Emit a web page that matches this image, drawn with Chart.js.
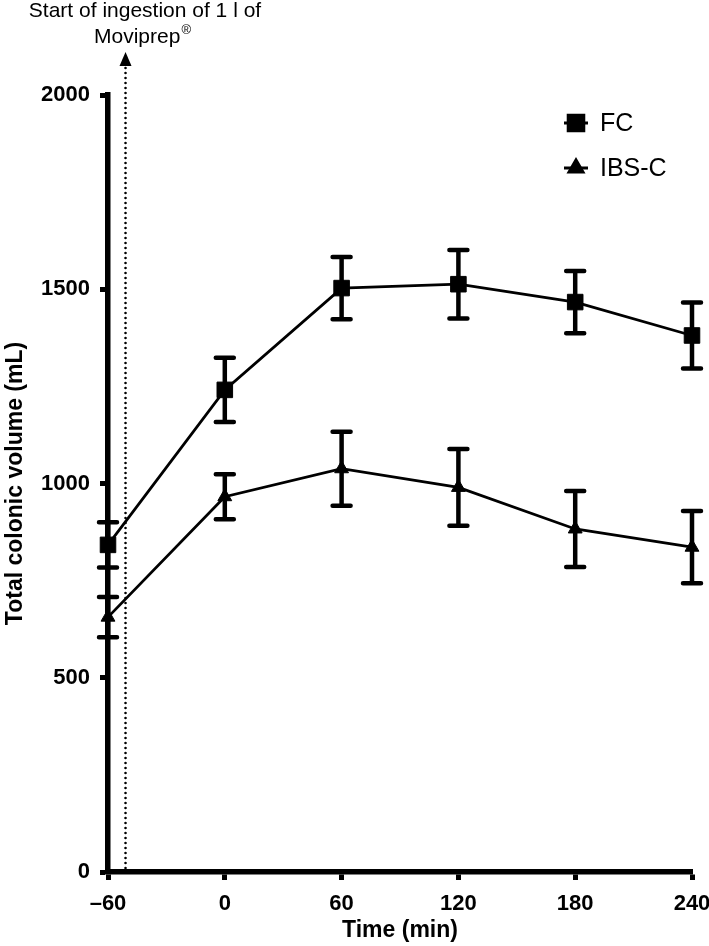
<!DOCTYPE html>
<html>
<head>
<meta charset="utf-8">
<script src="https://cdn.jsdelivr.net/npm/chart.js@4.4.1/dist/chart.umd.min.js"></script>
<style>
html, body { margin: 0; padding: 0; background: #fff; }
#wrap { width: 709px; height: 946px; }
</style>
</head>
<body>
<div id="wrap"><canvas id="chart" width="709" height="946"></canvas></div>
<script>
// DATA

const times = [-60, 0, 60, 120, 180, 240];
const fc_mean = [842, 1241, 1503, 1513, 1467, 1381];
const fc_err = [58, 83, 80, 88, 80, 85];
const ibs_mean = [656, 966, 1038, 990, 883, 836];
const ibs_err = [52, 58, 95, 99, 98, 93];
const x_ticks = [-60, 0, 60, 120, 180, 240];
const y_ticks = [0, 500, 1000, 1500, 2000];
const ingestion_time = -51;

const FONT = "'Liberation Sans', Arial, Helvetica, sans-serif";

//==================================
// PLUGINS
//==================================

// error bars drawn through the scales
const errorBars = {
	id: 'errorBars',
	afterDatasetsDraw(chart) {
		const ctx = chart.ctx;
		const xs = chart.scales.x, ys = chart.scales.y;
		chart.data.datasets.forEach(ds => {
			ctx.save();
			ctx.strokeStyle = '#000';
			ctx.lineWidth = 4.5;
			ctx.lineCap = 'butt';
			ds.data.forEach((p, i) => {
				const e = ds.errors[i];
				const x = xs.getPixelForValue(p.x);
				const top = ys.getPixelForValue(p.y + e);
				const bot = ys.getPixelForValue(p.y - e);
				ctx.beginPath();
				ctx.moveTo(x, top); ctx.lineTo(x, bot);
				ctx.stroke();
				ctx.lineCap = 'round';
				ctx.beginPath();
				ctx.moveTo(x - 9, top); ctx.lineTo(x + 9, top);
				ctx.moveTo(x - 9, bot); ctx.lineTo(x + 9, bot);
				ctx.stroke();
				ctx.lineCap = 'butt';
			});
			ctx.restore();
		});
	}
};

// dotted line + arrow + note for start of ingestion
const ingestion = {
	id: 'ingestion',
	beforeDatasetsDraw(chart) {
		const ctx = chart.ctx;
		const x = chart.scales.x.getPixelForValue(ingestion_time);
		ctx.save();
		ctx.strokeStyle = '#000';
		ctx.lineWidth = 2.6;
		ctx.lineCap = 'round';
		ctx.setLineDash([0, 5]);
		ctx.beginPath();
		ctx.moveTo(x, 68);
		ctx.lineTo(x, chart.chartArea.bottom);
		ctx.stroke();
		ctx.setLineDash([]);
		ctx.fillStyle = '#000';
		ctx.beginPath();
		ctx.moveTo(x, 52);
		ctx.lineTo(x - 6, 66);
		ctx.lineTo(x + 6, 66);
		ctx.closePath();
		ctx.fill();

		ctx.font = '21px ' + FONT;
		ctx.textAlign = 'center';
		ctx.textBaseline = 'alphabetic';
		ctx.fillText('Start of ingestion of 1 l of', 145, 17);
		const w1 = ctx.measureText('Moviprep').width;
		ctx.font = '13px ' + FONT;
		const w2 = ctx.measureText('\u00AE').width;
		const left = 142 - (w1 + w2) / 2;
		ctx.textAlign = 'left';
		ctx.font = '21px ' + FONT;
		ctx.fillText('Moviprep', left, 43);
		ctx.font = '13px ' + FONT;
		ctx.fillText('\u00AE', left + w1 + 1, 34);
		ctx.restore();
	}
};

// legend in the upper right
const legendBox = {
	id: 'legendBox',
	afterDraw(chart) {
		const ctx = chart.ctx;
		chart.data.datasets.forEach((ds, i) => {
			const y = 123 + i * 45;
			ctx.save();
			ctx.strokeStyle = '#000';
			ctx.fillStyle = '#000';
			ctx.lineWidth = 3;
			ctx.beginPath();
			ctx.moveTo(564, y); ctx.lineTo(588, y);
			ctx.stroke();
			Chart.helpers.drawPoint(ctx, {
				pointStyle: ds.pointStyle,
				radius: ds.pointRadius,
				borderWidth: 1,
				rotation: 0
			}, 576, y);
			ctx.font = '25px ' + FONT;
			ctx.textAlign = 'left';
			ctx.textBaseline = 'middle';
			ctx.fillText(ds.label, 600, y + 1);
			ctx.restore();
		});
	}
};

//==================================
// CHART
//==================================

function toPoints(xv, yv) {
	return xv.map((x, i) => ({ x: x, y: yv[i] }));
}

const ctx = document.getElementById('chart').getContext('2d');

new Chart(ctx, {
	type: 'line',
	data: {
		datasets: [{
			label: 'FC',
			data: toPoints(times, fc_mean),
			errors: fc_err,
			borderColor: '#000',
			backgroundColor: '#000',
			borderWidth: 2.8,
			pointStyle: 'rect',
			pointRadius: 11,
			pointBorderWidth: 1,
			tension: 0,
			clip: false,
		}, {
			label: 'IBS-C',
			data: toPoints(times, ibs_mean),
			errors: ibs_err,
			borderColor: '#000',
			backgroundColor: '#000',
			borderWidth: 2.8,
			pointStyle: 'triangle',
			pointRadius: 8,
			pointBorderWidth: 1,
			tension: 0,
			clip: false,
		}],
	},
	options: {
		responsive: false,
		animation: false,
		layout: { padding: { top: 95, right: 0, left: 0, bottom: 0 } },
		plugins: {
			legend: { display: false },
			tooltip: { enabled: false },
		},
		scales: {
			x: {
				type: 'linear',
				min: -60,
				max: 240,
				afterBuildTicks: axis => { axis.ticks = x_ticks.map(v => ({ value: v })); },
				afterFit: scale => {
					scale.height = 74;
					scale.paddingRight = 17;
					scale.paddingLeft = 0;
				},
				grid: { drawOnChartArea: false, drawTicks: true, tickLength: 8, tickWidth: 5, color: '#000' },
				border: { display: true, width: 5.5, color: '#000' },
				ticks: {
					color: '#000',
					padding: 11,
					maxRotation: 0,
					font: { family: FONT, size: 22, weight: 'bold' },
					callback: v => String(v).replace('-', '\u2013'),
				},
				title: {
					display: true,
					text: 'Time (min)',
					color: '#000',
					padding: { top: 0, bottom: 2 },
					font: { family: FONT, size: 23, weight: 'bold' },
				},
			},
			y: {
				min: 0,
				max: 2000,
				afterBuildTicks: axis => { axis.ticks = y_ticks.map(v => ({ value: v })); },
				afterFit: scale => { scale.width = 108; },
				grid: { drawOnChartArea: false, drawTicks: true, tickLength: 8, tickWidth: 5, color: '#000' },
				border: { display: true, width: 5.5, color: '#000' },
				ticks: {
					color: '#000',
					padding: 10,
					font: { family: FONT, size: 22, weight: 'bold' },
					callback: v => String(v),
				},
				title: {
					display: true,
					text: 'Total colonic volume (mL)',
					color: '#000',
					padding: { top: 2, bottom: 2 },
					font: { family: FONT, size: 23, weight: 'bold' },
				},
			},
		},
	},
	plugins: [ingestion, errorBars, legendBox],
});
</script>
</body>
</html>
